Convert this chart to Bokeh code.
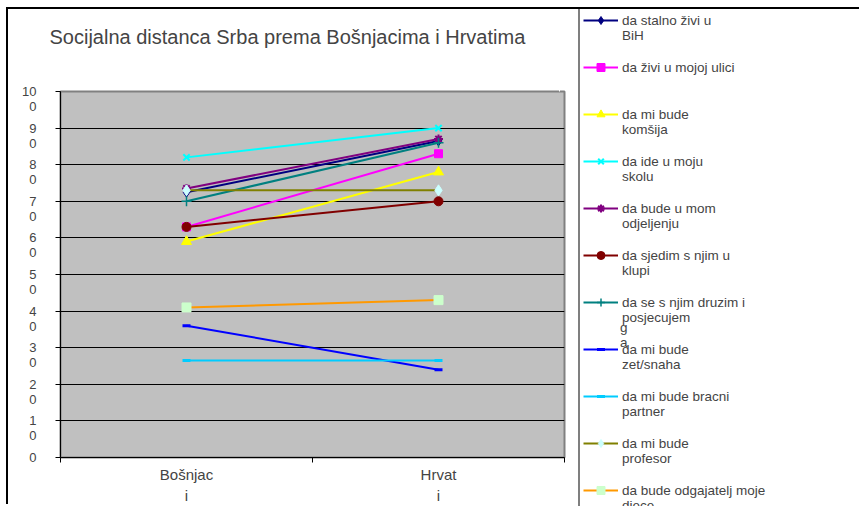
from bokeh.plotting import figure
from bokeh.models import Legend, LegendItem, FixedTicker, Range1d, LinearAxis
from bokeh.embed import file_html
from bokeh.resources import INLINE

FONT = "Liberation Sans"

chart_title = "Socijalna distanca Srba prema Bošnjacima i Hrvatima"
categories = ["Bošnjaci", "Hrvati"]
category_labels = ["Bošnjac\ni", "Hrvat\ni"]
y_ticks = [0, 10, 20, 30, 40, 50, 60, 70, 80, 90, 100]
y_tick_labels = ["0", "1\n0", "2\n0", "3\n0", "4\n0", "5\n0", "6\n0", "7\n0", "8\n0", "9\n0", "10\n0"]

# series values (Bošnjaci, Hrvati)
stalno_zivi_u_bih = [72.5, 86.5]
zivi_u_mojoj_ulici = [63, 83]
mi_bude_komsija = [59, 78]
ide_u_moju_skolu = [82, 90]
bude_u_mom_odjeljenju = [73.5, 87]
sjedim_s_njim_u_klupi = [63, 70]
druzim_i_posjecujem = [70, 86]
mi_bude_zet_snaha = [36, 24]
mi_bude_bracni_partner = [26.5, 26.5]
mi_bude_profesor = [73, 73]
odgajatelj_moje_djece = [41, 43]

# legend texts as wrapped in the picture (a leading blank line keeps the first
# text line level with the legend glyph)
legend_labels = [
    "\nda stalno živi u\nBiH",
    "da živi u mojoj ulici",
    "\nda mi bude\nkomšija",
    "\nda ide u moju\nskolu",
    "\nda bude u mom\nodjeljenju",
    "\nda sjedim s njim u\nklupi",
    "\nda se s njim druzim i\nposjecujem",
    "\nda mi bude\nzet/snaha",
    "\nda mi bude bracni\npartner",
    "\nda mi bude\nprofesor",
    "\nda bude odgajatelj moje\ndjece",
]
# the wrapped-over letters that spill out under "posjecujem"
overflow_text = "g\na"

series_values = [
    stalno_zivi_u_bih, zivi_u_mojoj_ulici, mi_bude_komsija, ide_u_moju_skolu,
    bude_u_mom_odjeljenju, sjedim_s_njim_u_klupi, druzim_i_posjecujem,
    mi_bude_zet_snaha, mi_bude_bracni_partner, mi_bude_profesor, odgajatelj_moje_djece,
]

# styles: line color, marker, marker fill, marker line, size, marker line width
styles = [
    ("#000080", "diamond", "#000080", "#000080", 10, 1),
    ("#FF00FF", "square", "#FF00FF", "#FF00FF", 8, 1),
    ("#FFFF00", "triangle", "#FFFF00", "#FFFF00", 10, 1),
    ("#00FFFF", "x", "#00FFFF", "#00FFFF", 9, 2),
    ("#800080", "asterisk", "#800080", "#800080", 9, 2),
    ("#800000", "circle", "#800000", "#800000", 9, 1),
    ("#008080", "cross", "#008080", "#008080", 10, 1.5),
    ("#0000FF", "dash", "#0000FF", "#0000FF", 8, 3),
    ("#00CCFF", "dash", "#00CCFF", "#00CCFF", 8, 3),
    ("#808000", "diamond", "#CCFFFF", "#CCFFFF", 11, 1),
    ("#FF9900", "square", "#CCFFCC", "#CCFFCC", 9, 1),
]

x_pos = [i + 0.5 for i in range(len(categories))]

# ---------------- chart ----------------
p = figure(width=853, height=497, x_range=Range1d(0, len(categories)), y_range=Range1d(0, 100),
           output_backend="svg", toolbar_location=None,
           min_border_left=52, min_border_right=297, min_border_top=82, min_border_bottom=49,
           background_fill_color="#C0C0C0", border_fill_color="white")
p.styles = {"margin-left": "6px", "margin-top": "7px",
            "border-left": "2px solid black", "border-top": "2px solid black"}

p.title.text = chart_title
p.title.text_font = FONT
p.title.text_font_size = "20px"
p.title.text_font_style = "normal"
p.title.align = "left"
p.title.offset = -11
p.title.standoff = 10

p.outline_line_color = "#808080"
p.outline_line_width = 2

p.yaxis.ticker = FixedTicker(ticks=y_ticks)
p.yaxis.major_label_overrides = {t: ("\n" + l if "\n" in l else l) for t, l in zip(y_ticks, y_tick_labels)}
p.yaxis.major_tick_out = 5
p.yaxis.major_tick_in = 0
p.yaxis.minor_tick_line_color = None
p.yaxis.major_label_standoff = 19
p.yaxis.major_label_text_font = FONT
p.yaxis.major_label_text_font_size = "13px"
p.yaxis.major_label_text_line_height = 1.0
p.yaxis.axis_line_color = "black"

p.xaxis.ticker = FixedTicker(ticks=x_pos, minor_ticks=list(range(len(categories) + 1)))
p.xaxis.major_label_overrides = {x: l for x, l in zip(x_pos, category_labels)}
p.xaxis.major_tick_out = 0
p.xaxis.major_tick_in = 0
p.xaxis.minor_tick_out = 5
p.xaxis.minor_tick_in = 0
p.xaxis.minor_tick_line_color = "black"
p.xaxis.major_label_standoff = 3
p.xaxis.major_label_text_font = FONT
p.xaxis.major_label_text_font_size = "15px"
p.xaxis.major_label_text_line_height = 1.25
p.xaxis.axis_line_color = "black"

p.xgrid.visible = False
p.ygrid.ticker = FixedTicker(ticks=y_ticks)
p.ygrid.grid_line_color = "black"
p.ygrid.grid_line_width = 1

# blank spacer axis above the plot area (white on white), so that the title sits higher
spacer = LinearAxis(ticker=FixedTicker(ticks=[len(categories) - 0.02]), major_tick_out=35,
                    major_tick_in=0, major_tick_line_color="white", minor_tick_line_color=None,
                    axis_line_color=None, major_label_standoff=0,
                    major_label_overrides={len(categories) - 0.02: " "},
                    major_label_text_font_size="1px", major_label_text_color="white")
p.add_layout(spacer, "above")

for vals, (lc, mk, mf, ml, sz, mlw) in zip(series_values, styles):
    p.line(x_pos, vals, line_color=lc, line_width=2)
    p.scatter(x_pos, vals, marker=mk, size=sz, fill_color=mf, line_color=ml, line_width=mlw)

# ---------------- legend panel (overlaid on the right) ----------------
lg = figure(width=285, height=497, x_range=Range1d(0, 1), y_range=Range1d(1000, 1001),
            output_backend="svg", toolbar_location=None, min_border=0,
            x_axis_location=None, y_axis_location=None, outline_line_color=None,
            background_fill_alpha=0, border_fill_alpha=0)
lg.styles = {"position": "absolute", "left": "576px", "top": "9px"}
lg.grid.visible = False

items = []
for vals, lab, (lc, mk, mf, ml, sz, mlw) in zip(series_values, legend_labels, styles):
    r1 = lg.line(x_pos, vals, line_color=lc, line_width=2)
    r2 = lg.scatter(x_pos, vals, marker=mk, size=sz, fill_color=mf, line_color=ml, line_width=mlw)
    items.append(LegendItem(label=lab, renderers=[r1, r2]))

legend = Legend(items=items, location=(2, -12.5), margin=0, padding=3, spacing=0,
                label_height=47, glyph_height=20, glyph_width=35, label_standoff=4,
                label_width=260, border_line_color="black", border_line_width=2,
                label_text_font=FONT, label_text_font_size="13.5px",
                background_fill_color="white")
lg.add_layout(legend, "center")

# overflowing letters of the "posjecujem" entry, as a second borderless legend on top
ghost = lg.line(x_pos, druzim_i_posjecujem, line_alpha=0)
overflow = Legend(items=[LegendItem(label=overflow_text, renderers=[ghost])],
                  location=(43, 156.5), margin=0, padding=0, spacing=0,
                  label_height=30, glyph_height=1, glyph_width=1, label_standoff=0,
                  border_line_color=None, background_fill_alpha=0,
                  label_text_font=FONT, label_text_font_size="13.5px")
lg.add_layout(overflow, "center")

open("out.html", "w").write(file_html([p, lg], INLINE))
